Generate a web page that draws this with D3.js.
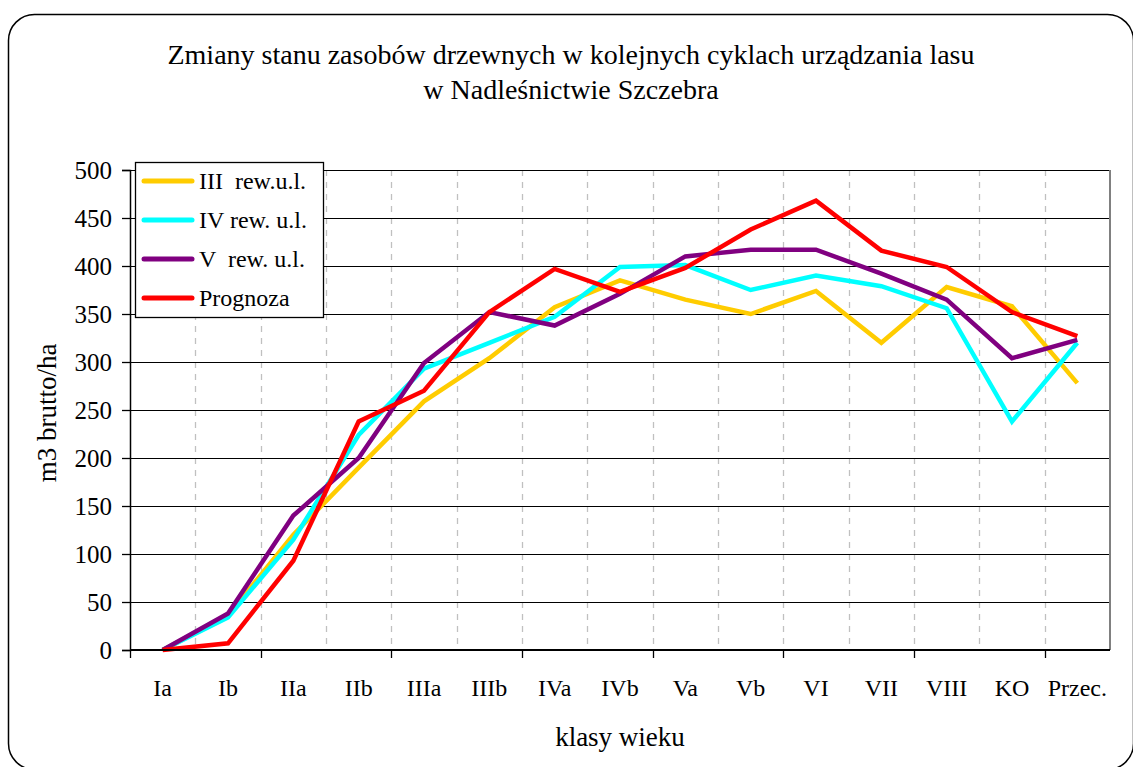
<!DOCTYPE html>
<html>
  <head>
    <meta charset="utf-8">
    <title>Zmiany stanu zasobów drzewnych</title>
    <script src="https://d3js.org/d3.v7.min.js"></script>
    <style>
      body { margin: 0; background: #fff; }
      svg text { font-family: "Liberation Serif", "Times New Roman", serif; fill: #000; }
    </style>
  </head>
  <body>
    <svg id="chart" width="1133" height="767"></svg>
    <script>
      // data
      var categories = ["Ia", "Ib", "IIa", "IIb", "IIIa", "IIIb", "IVa", "IVb", "Va", "Vb", "VI", "VII", "VIII", "KO", "Przec."];
      var rewIII = [0, 36, 120, 190, 259, 304, 357, 385, 365, 350, 374, 320, 378, 358, 278];
      var rewIV = [0, 34, 115, 224, 293, 320, 347, 399, 401, 375, 390, 379, 356, 238, 320];
      var rewV = [0, 38, 140, 200, 299, 352, 338, 371, 410, 417, 417, 392, 365, 304, 323];
      var prognoza = [0, 7, 93, 238, 270, 352, 397, 373, 398, 438, 468, 416, 399, 352, 327];
      var seriesNames = ["III  rew.u.l.", "IV rew. u.l.", "V  rew. u.l.", "Prognoza"];
      var seriesColours = ["#FFCC00", "#00FFFF", "#800080", "#FF0000"];
      var yTicks = [0, 50, 100, 150, 200, 250, 300, 350, 400, 450, 500];

      var svg = d3.select("#chart");

      // outer frame with rounded corners (runs just past right and bottom)
      svg.append("rect")
        .attr("x", 8.5).attr("y", 14.5)
        .attr("width", 1125).attr("height", 755)
        .attr("rx", 26).attr("ry", 26)
        .style("fill", "none").style("stroke", "#000").style("stroke-width", 1.5);

      // title
      svg.append("text")
        .attr("x", 571).attr("y", 64)
        .attr("text-anchor", "middle").style("font-size", "28px")
        .text("Zmiany stanu zasobów drzewnych w kolejnych cyklach urządzania lasu");
      svg.append("text")
        .attr("x", 571).attr("y", 99)
        .attr("text-anchor", "middle").style("font-size", "28px")
        .text("w Nadleśnictwie Szczebra");

      // plot area
      var plotLeft = 130, plotRight = 1110, plotTop = 170, plotBottom = 650;
      var x = d3.scaleBand().domain(categories).range([plotLeft, plotRight]);
      var y = d3.scaleLinear().domain([0, 500]).range([plotBottom, plotTop]);

      var plot = svg.append("g");

      // vertical dashed grid at category boundaries
      plot.selectAll(".vgrid")
          .data(categories.slice(1))
        .enter().append("line")
          .attr("x1", function(d) { return Math.round(x(d)) + 0.5; })
          .attr("x2", function(d) { return Math.round(x(d)) + 0.5; })
          .attr("y1", plotTop).attr("y2", plotBottom)
          .style("stroke", "#c0c0c0").style("stroke-width", 1.3)
          .style("stroke-dasharray", "6,6");

      // horizontal grid
      plot.selectAll(".hgrid")
          .data(yTicks.slice(1))
        .enter().append("line")
          .attr("x1", plotLeft).attr("x2", plotRight)
          .attr("y1", function(d) { return Math.round(y(d)) + 0.5; })
          .attr("y2", function(d) { return Math.round(y(d)) + 0.5; })
          .style("stroke", "#000").style("stroke-width", 1);

      // right border
      plot.append("line")
        .attr("x1", plotRight).attr("x2", plotRight).attr("y1", plotTop).attr("y2", plotBottom)
        .style("stroke", "#808080").style("stroke-width", 2);

      // y axis
      var yAxis = d3.axisLeft(y).tickValues(yTicks).tickSize(8).tickPadding(10);
      var yg = svg.append("g").attr("transform", "translate(" + plotLeft + ",0)").call(yAxis);
      yg.select(".domain").style("stroke-width", 1.5);
      yg.selectAll("line").style("stroke-width", 1.3);
      yg.selectAll("text")
        .style("font-size", "25px")
        .style("font-family", "Liberation Serif")
        .attr("dy", "0.33em");

      // x axis (ticks every second boundary, labels centred)
      var xg = svg.append("g").attr("transform", "translate(0," + plotBottom + ")");
      xg.append("line").attr("x1", plotLeft).attr("x2", plotRight)
        .style("stroke", "#000").style("stroke-width", 2);
      xg.selectAll(".xtick")
          .data(categories.filter(function(d, i) { return i % 2 == 0; }))
        .enter().append("line")
          .attr("x1", function(d) { return Math.round(x(d)) + 0.5; })
          .attr("x2", function(d) { return Math.round(x(d)) + 0.5; })
          .attr("y1", 0).attr("y2", 8)
          .style("stroke", "#000").style("stroke-width", 1.3);
      xg.selectAll(".xlabel")
          .data(categories)
        .enter().append("text")
          .attr("x", function(d) { return x(d) + x.bandwidth() / 2; })
          .attr("y", 46)
          .attr("text-anchor", "middle").style("font-size", "24px")
          .text(function(d) { return d; });

      // axis titles
      svg.append("text")
        .attr("x", 620).attr("y", 746)
        .attr("text-anchor", "middle").style("font-size", "27px")
        .text("klasy wieku");
      svg.append("text")
        .attr("transform", "translate(56,413) rotate(-90)")
        .attr("text-anchor", "middle").style("font-size", "27px")
        .text("m3 brutto/ha");

      // lines
      var series = [rewIII, rewIV, rewV, prognoza];
      var line = d3.line()
        .x(function(d, i) { return x(categories[i]) + x.bandwidth() / 2; })
        .y(function(d) { return y(d); });
      plot.selectAll(".series")
          .data(series)
        .enter().append("path")
          .attr("d", line)
          .style("fill", "none")
          .style("stroke", function(d, i) { return seriesColours[i]; })
          .style("stroke-width", 4.5)
          .style("stroke-linejoin", "miter");

      // legend
      var legend = svg.append("g");
      legend.append("rect")
        .attr("x", 135.5).attr("y", 162.5).attr("width", 188).attr("height", 155)
        .style("fill", "#fff").style("stroke", "#000").style("stroke-width", 1.3);
      var items = legend.selectAll(".legendItem")
          .data(seriesNames)
        .enter().append("g")
          .attr("transform", function(d, i) { return "translate(0," + [181, 220, 259, 298][i] + ")"; });
      items.append("line")
        .attr("x1", 144).attr("x2", 192)
        .style("stroke", function(d, i) { return seriesColours[i]; })
        .style("stroke-width", 5).style("stroke-linecap", "round");
      items.append("text")
        .attr("x", 199).attr("y", 8)
        .style("font-size", "24px")
        .style("white-space", "pre")
        .text(function(d) { return d; });
    </script>
  </body>
</html>
